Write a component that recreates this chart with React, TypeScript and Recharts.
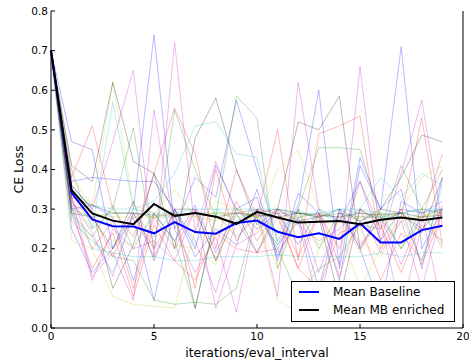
import React from 'react';
import { LineChart, Line, XAxis, YAxis, Legend } from 'recharts';

const FONT = '"DejaVu Sans", sans-serif';

const steps = [0, 1, 2, 3, 4, 5, 6, 7, 8, 9, 10, 11, 12, 13, 14, 15, 16, 17, 18, 19];
const xTicks = [0, 5, 10, 15, 20];
const yTicks = [0, 0.1, 0.2, 0.3, 0.4, 0.5, 0.6, 0.7, 0.8];

// mean curves
const meanBaseline = [0.70, 0.341, 0.274, 0.257, 0.256, 0.239, 0.267, 0.242, 0.238, 0.265, 0.271, 0.243, 0.229, 0.239, 0.225, 0.264, 0.216, 0.216, 0.247, 0.258];
const meanEnriched = [0.70, 0.348, 0.289, 0.271, 0.262, 0.313, 0.283, 0.290, 0.281, 0.263, 0.293, 0.279, 0.266, 0.268, 0.270, 0.262, 0.273, 0.279, 0.272, 0.279];

// individual runs (thin lines)
const runB1 = [0.70, 0.47, 0.45, 0.20, 0.30, 0.74, 0.25, 0.38, 0.33, 0.575, 0.40, 0.22, 0.31, 0.60, 0.15, 0.43, 0.30, 0.71, 0.20, 0.30];
const runB2 = [0.70, 0.37, 0.38, 0.375, 0.37, 0.37, 0.30, 0.20, 0.41, 0.30, 0.33, 0.17, 0.34, 0.29, 0.12, 0.41, 0.30, 0.35, 0.15, 0.38];
const runB3 = [0.69, 0.25, 0.14, 0.20, 0.28, 0.07, 0.30, 0.18, 0.25, 0.21, 0.35, 0.18, 0.28, 0.10, 0.30, 0.20, 0.05, 0.32, 0.29, 0.32];
const runB4 = [0.70, 0.30, 0.31, 0.28, 0.12, 0.29, 0.22, 0.31, 0.19, 0.30, 0.25, 0.29, 0.21, 0.30, 0.27, 0.37, 0.22, 0.30, 0.29, 0.30];
const runG1 = [0.70, 0.40, 0.25, 0.30, 0.505, 0.20, 0.55, 0.40, 0.28, 0.585, 0.53, 0.15, 0.30, 0.455, 0.455, 0.45, 0.28, 0.20, 0.30, 0.40];
const runG2 = [0.70, 0.30, 0.28, 0.29, 0.29, 0.28, 0.28, 0.29, 0.29, 0.29, 0.28, 0.29, 0.29, 0.28, 0.29, 0.28, 0.28, 0.29, 0.30, 0.29];
const runG3 = [0.70, 0.27, 0.22, 0.18, 0.17, 0.07, 0.06, 0.065, 0.06, 0.10, 0.30, 0.20, 0.08, 0.15, 0.18, 0.26, 0.25, 0.41, 0.30, 0.20];
const runG4 = [0.70, 0.29, 0.23, 0.31, 0.20, 0.29, 0.22, 0.05, 0.29, 0.23, 0.28, 0.21, 0.30, 0.20, 0.29, 0.27, 0.29, 0.20, 0.28, 0.30];
const runR1 = [0.70, 0.38, 0.51, 0.30, 0.23, 0.39, 0.555, 0.44, 0.20, 0.40, 0.28, 0.50, 0.17, 0.49, 0.51, 0.535, 0.20, 0.28, 0.53, 0.21];
const runR2 = [0.70, 0.33, 0.20, 0.27, 0.10, 0.28, 0.20, 0.30, 0.17, 0.32, 0.22, 0.30, 0.18, 0.29, 0.13, 0.30, 0.26, 0.14, 0.27, 0.44];
const runR3 = [0.70, 0.29, 0.15, 0.24, 0.08, 0.26, 0.17, 0.12, 0.24, 0.20, 0.19, 0.28, 0.15, 0.10, 0.24, 0.26, 0.12, 0.24, 0.17, 0.31];
const runR4 = [0.70, 0.31, 0.29, 0.18, 0.29, 0.20, 0.29, 0.10, 0.40, 0.22, 0.30, 0.29, 0.15, 0.29, 0.20, 0.37, 0.25, 0.30, 0.16, 0.29];
const runC1 = [0.70, 0.32, 0.25, 0.57, 0.30, 0.32, 0.39, 0.51, 0.52, 0.44, 0.43, 0.21, 0.28, 0.29, 0.27, 0.30, 0.38, 0.33, 0.39, 0.36];
const runC2 = [0.70, 0.30, 0.20, 0.19, 0.18, 0.18, 0.17, 0.17, 0.18, 0.18, 0.18, 0.185, 0.18, 0.18, 0.18, 0.18, 0.19, 0.18, 0.19, 0.19];
const runC3 = [0.69, 0.28, 0.23, 0.14, 0.29, 0.23, 0.30, 0.21, 0.30, 0.27, 0.30, 0.24, 0.30, 0.27, 0.30, 0.29, 0.28, 0.28, 0.17, 0.36];
const runC4 = [0.70, 0.35, 0.31, 0.30, 0.30, 0.29, 0.29, 0.30, 0.30, 0.30, 0.30, 0.30, 0.29, 0.29, 0.30, 0.30, 0.29, 0.29, 0.30, 0.30];
const runM1 = [0.70, 0.36, 0.30, 0.47, 0.65, 0.18, 0.72, 0.24, 0.42, 0.29, 0.30, 0.08, 0.62, 0.30, 0.16, 0.66, 0.22, 0.39, 0.575, 0.26];
const runM2 = [0.70, 0.33, 0.13, 0.19, 0.07, 0.55, 0.25, 0.14, 0.23, 0.04, 0.30, 0.19, 0.27, 0.05, 0.30, 0.21, 0.27, 0.04, 0.26, 0.22];
const runM3 = [0.70, 0.31, 0.12, 0.25, 0.20, 0.22, 0.17, 0.30, 0.05, 0.21, 0.24, 0.30, 0.26, 0.22, 0.25, 0.30, 0.19, 0.27, 0.10, 0.30];
const runM4 = [0.70, 0.32, 0.24, 0.13, 0.29, 0.18, 0.30, 0.22, 0.09, 0.27, 0.19, 0.20, 0.30, 0.14, 0.29, 0.20, 0.28, 0.16, 0.29, 0.05];
const runY1 = [0.70, 0.38, 0.31, 0.62, 0.31, 0.29, 0.35, 0.28, 0.27, 0.30, 0.27, 0.40, 0.45, 0.30, 0.25, 0.10, 0.20, 0.30, 0.38, 0.41];
const runY2 = [0.70, 0.22, 0.20, 0.08, 0.06, 0.055, 0.05, 0.25, 0.32, 0.30, 0.28, 0.07, 0.04, 0.20, 0.27, 0.22, 0.18, 0.27, 0.28, 0.30];
const runY3 = [0.70, 0.35, 0.29, 0.28, 0.28, 0.28, 0.29, 0.28, 0.29, 0.28, 0.29, 0.28, 0.28, 0.29, 0.28, 0.28, 0.29, 0.28, 0.28, 0.29];
const runY4 = [0.70, 0.34, 0.26, 0.22, 0.21, 0.29, 0.21, 0.20, 0.16, 0.30, 0.28, 0.15, 0.29, 0.21, 0.28, 0.19, 0.29, 0.25, 0.30, 0.21];
const runK1 = [0.70, 0.41, 0.37, 0.62, 0.42, 0.39, 0.20, 0.48, 0.58, 0.40, 0.26, 0.30, 0.52, 0.50, 0.585, 0.20, 0.30, 0.38, 0.487, 0.47];
const runK2 = [0.70, 0.36, 0.30, 0.10, 0.21, 0.39, 0.29, 0.05, 0.28, 0.26, 0.29, 0.30, 0.27, 0.28, 0.30, 0.27, 0.30, 0.29, 0.24, 0.38];
const runK3 = [0.70, 0.29, 0.28, 0.20, 0.32, 0.17, 0.30, 0.30, 0.17, 0.29, 0.19, 0.30, 0.29, 0.28, 0.07, 0.30, 0.27, 0.29, 0.25, 0.30];
const runK4 = [0.70, 0.33, 0.31, 0.29, 0.29, 0.285, 0.285, 0.29, 0.28, 0.29, 0.285, 0.28, 0.29, 0.285, 0.28, 0.29, 0.285, 0.29, 0.28, 0.285];

// matplotlib classic colour cycle
const cycle = ['#0000ff', '#008000', '#ff0000', '#00bfbf', '#bf00bf', '#bfbf00', '#000000'];

const runGroups = [
    [runB1, runG1, runR1, runC1, runM1, runY1, runK1],
    [runB2, runG2, runR2, runC2, runM2, runY2, runK2],
    [runB3, runG3, runR3, runC3, runM3, runY3, runK3],
    [runB4, runG4, runR4, runC4, runM4, runY4, runK4],
];

const runs = runGroups.flatMap((group, g) =>
    group.map((values, c) => ({ key: `run${g}_${c}`, values, color: cycle[c] }))
);

const legendItems = [
    { label: 'Mean Baseline', color: '#0000ff' },
    { label: 'Mean MB enriched', color: '#000000' },
];

const rows = steps.map((x, i) => {
    const row: Record<string, number> = { x, baseline: meanBaseline[i], enriched: meanEnriched[i] };
    runs.forEach((r) => {
        row[r.key] = r.values[i];
    });
    return row;
});

const LegendBox = () => (
    <div
        style={{
            border: '1px solid #000',
            background: '#fff',
            boxSizing: 'border-box',
            width: 164,
            height: 41,
            paddingLeft: 7,
            paddingTop: 0.5,
            fontFamily: FONT,
            fontSize: 12,
            color: '#000',
        }}
    >
        {legendItems.map((it) => (
            <div key={it.label} style={{ display: 'flex', alignItems: 'center', height: 18.6 }}>
                <span style={{ width: 20, height: 0, borderTop: `2px solid ${it.color}`, marginRight: 14 }} />
                <span>{it.label}</span>
            </div>
        ))}
    </div>
);

const tickStyle = { fontSize: 10.5, fill: '#000', fontFamily: FONT };

export default function App() {
    return (
        <div style={{ position: 'absolute', left: 0, top: 0, width: 469, height: 362, background: '#fff' }}>
            <LineChart width={469} height={362} data={rows} margin={{ top: 11, right: 0, bottom: 0, left: 0 }}>
                <XAxis
                    dataKey="x"
                    type="number"
                    domain={[0, 20]}
                    ticks={xTicks}
                    height={34}
                    stroke="#000"
                    tick={tickStyle}
                    tickSize={-4}
                    tickMargin={9}
                    label={{
                        value: 'iterations/eval_interval',
                        position: 'insideBottom',
                        offset: 5,
                        style: { fontSize: 12.5, fill: '#000', fontFamily: FONT },
                    }}
                />
                <XAxis
                    xAxisId="top"
                    orientation="top"
                    dataKey="x"
                    type="number"
                    domain={[0, 20]}
                    ticks={xTicks}
                    height={0}
                    stroke="#000"
                    tick={false}
                    tickSize={-4}
                />
                <YAxis
                    type="number"
                    domain={[0, 0.8]}
                    ticks={yTicks}
                    width={51}
                    stroke="#000"
                    tick={tickStyle}
                    tickSize={-4}
                    tickMargin={7}
                    tickFormatter={(v: number) => v.toFixed(1)}
                    label={{
                        value: 'CE Loss',
                        angle: -90,
                        position: 'insideLeft',
                        offset: 19,
                        style: { fontSize: 12.5, fill: '#000', fontFamily: FONT, textAnchor: 'middle' },
                    }}
                />
                <YAxis
                    yAxisId="right"
                    orientation="right"
                    type="number"
                    domain={[0, 0.8]}
                    ticks={yTicks}
                    width={6}
                    stroke="#000"
                    tick={false}
                    tickSize={-4}
                />

                {runs.map((r) => (
                    <Line
                        key={r.key}
                        dataKey={r.key}
                        type="linear"
                        stroke={r.color}
                        strokeOpacity={0.3}
                        strokeWidth={0.9}
                        dot={false}
                        activeDot={false}
                        legendType="none"
                        isAnimationActive={false}
                    />
                ))}

                <Line dataKey="baseline" type="linear" stroke="#0000ff" strokeWidth={2} dot={false} isAnimationActive={false} />
                <Line dataKey="enriched" type="linear" stroke="#000000" strokeWidth={2} dot={false} isAnimationActive={false} />

                <Legend
                    layout="vertical"
                    align="center"
                    verticalAlign="middle"
                    content={<LegendBox />}
                    wrapperStyle={{ left: 291, top: 281, width: 164, height: 41 }}
                />
            </LineChart>
        </div>
    );
}
